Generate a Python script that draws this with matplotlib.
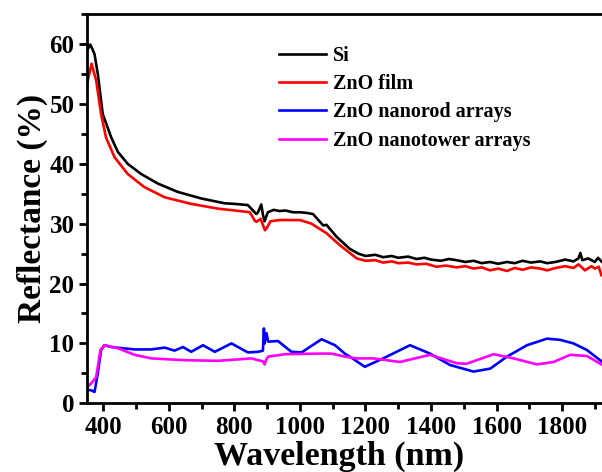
import matplotlib.pyplot as plt
from matplotlib.ticker import MultipleLocator

plt.rcParams['font.family'] = ['Liberation Serif', 'DejaVu Serif']
plt.rcParams['font.weight'] = 'bold'

# Si (black)
si_nm = [350, 360, 366, 373, 383, 398, 424, 444, 474, 515, 566, 627, 699, 770, 800, 841,
         867, 872, 882, 887, 892, 902, 920, 938, 955, 979, 1000, 1020, 1040, 1071,
         1081, 1112, 1132, 1152, 1178, 1200, 1230, 1254, 1280, 1300, 1330, 1356, 1380,
         1400, 1430, 1455, 1478, 1505, 1530, 1555, 1580, 1605, 1632, 1655, 1680, 1705,
         1733, 1755, 1780, 1810, 1835, 1850, 1856, 1862, 1880, 1900, 1910, 1920]
si_r = [58.9, 59.9, 59.2, 58.3, 55.0, 48.3, 44.4, 42.0, 40.0, 38.3, 36.7, 35.3, 34.2, 33.4, 33.3, 33.1,
        31.6, 31.9, 33.2, 31.5, 30.4, 31.9, 32.3, 32.1, 32.2, 31.9, 31.9, 31.8, 31.6, 29.7,
        29.8, 27.8, 26.8, 25.8, 25.0, 24.6, 24.8, 24.4, 24.6, 24.3, 24.5, 24.1, 24.3,
        24.0, 23.8, 24.1, 23.9, 23.6, 23.8, 23.4, 23.6, 23.3, 23.6, 23.4, 23.8, 23.5,
        23.7, 23.4, 23.6, 24.0, 23.7, 24.2, 25.1, 23.9, 24.2, 23.6, 24.3, 23.7]

# ZnO film (red)
film_nm = [350, 364, 378, 393, 408, 434, 474, 525, 587, 668, 750, 800, 847, 862, 867,
           880, 893, 898, 910, 938, 979, 1000, 1035, 1081, 1122, 1173, 1200, 1230, 1254,
           1280, 1300, 1330, 1356, 1385, 1417, 1445, 1478, 1505, 1530, 1555, 1580, 1605,
           1632, 1655, 1680, 1705, 1733, 1755, 1780, 1810, 1835, 1850, 1870, 1890, 1900,
           1912, 1920]
film_r = [53.3, 56.7, 53.9, 48.3, 44.4, 41.1, 38.3, 36.1, 34.4, 33.3, 32.5, 32.2, 31.9, 30.5, 30.3,
          30.8, 28.9, 29.2, 30.4, 30.6, 30.6, 30.6, 30.0, 28.4, 26.4, 24.2, 23.8, 23.9, 23.5,
          23.7, 23.4, 23.5, 23.2, 23.3, 22.8, 23.0, 22.7, 22.9, 22.5, 22.7, 22.2, 22.5,
          22.1, 22.6, 22.3, 22.7, 22.5, 22.2, 22.6, 22.9, 22.6, 23.2, 22.2, 22.9, 22.5,
          22.8, 21.4]

# ZnO nanorod arrays (blue)
rod_nm = [350, 362, 373, 383, 393, 403, 424, 495, 546, 587, 617, 643, 668, 704, 740,
          791, 841, 872, 887, 890, 892, 898, 903, 933, 974, 1005, 1066, 1107, 1137,
          1152, 1198, 1254, 1336, 1397, 1458, 1530, 1581, 1632, 1693, 1754, 1794, 1835,
          1876, 1923]
rod_r = [2.2, 2.2, 1.9, 5.0, 8.9, 9.7, 9.4, 9.0, 9.0, 9.3, 8.8, 9.4, 8.6, 9.7, 8.6,
         10.0, 8.5, 8.6, 8.8, 12.5, 10.0, 11.7, 10.3, 10.4, 8.6, 8.5, 10.7, 9.7, 8.3,
         7.8, 6.1, 7.5, 9.7, 8.3, 6.4, 5.3, 5.8, 7.8, 9.7, 10.8, 10.6, 10.0,
         8.9, 6.9]

# ZnO nanotower arrays (magenta)
tower_nm = [350, 367, 378, 391, 403, 444, 495, 546, 648, 750, 852, 872, 887, 892, 897,
            903, 954, 1056, 1096, 1137, 1173, 1224, 1305, 1397, 1478, 1508, 1591, 1652,
            1723, 1774, 1825, 1876, 1923]
tower_r = [2.6, 3.6, 4.4, 8.9, 9.7, 9.2, 8.1, 7.5, 7.2, 7.1, 7.5, 7.2, 7.0, 6.5, 7.3,
           7.8, 8.2, 8.3, 8.3, 7.8, 7.5, 7.5, 6.9, 8.1, 6.7, 6.6, 8.2, 7.5,
           6.5, 6.9, 8.1, 7.9, 6.4]

fig = plt.figure(figsize=(6.02, 4.72), dpi=100)
ax = fig.add_axes([0.1445, 0.1455, 0.8555, 0.8248])

lw = 1.9
ax.plot(si_nm, si_r, color='black', lw=lw, label='Si')
ax.plot(film_nm, film_r, color='#ff0000', lw=lw, label='ZnO film')
ax.plot(rod_nm, rod_r, color='#0000ff', lw=lw, label='ZnO nanorod arrays')
ax.plot(tower_nm, tower_r, color='#ff00ff', lw=lw, label='ZnO nanotower arrays')

ax.set_xlim(350, 1922)
ax.set_ylim(0, 65)
ax.set_xticks(range(400, 1801, 200))
ax.xaxis.set_minor_locator(MultipleLocator(100))
ax.yaxis.set_major_locator(MultipleLocator(10))
ax.yaxis.set_minor_locator(MultipleLocator(5))

ax.spines['right'].set_visible(False)
for s in ['left', 'bottom', 'top']:
    ax.spines[s].set_linewidth(2)
ax.tick_params(which='major', direction='out', length=6, width=2, labelsize=18,
               right=False, top=False, pad=3)
ax.tick_params(which='minor', direction='out', length=4, width=2,
               right=False, top=False)
for lab in ax.get_xticklabels() + ax.get_yticklabels():
    lab.set_fontweight('bold')

ax.set_xlabel('Wavelength (nm)', fontsize=24.5, fontweight='bold')
ax.set_ylabel('Reflectance (%)', fontsize=24, fontweight='bold')
ax.xaxis.set_label_coords(0.49, -0.097)
ax.yaxis.set_label_coords(-0.075, 0.5)

ax.legend(loc='upper left', bbox_to_anchor=(0.35, 0.95), frameon=False,
          prop={'size': 14.5, 'weight': 'bold'}, handlelength=2.3,
          handletextpad=0.35, labelspacing=0.42, borderaxespad=0.2)

fig.savefig('out.png', dpi=100)
